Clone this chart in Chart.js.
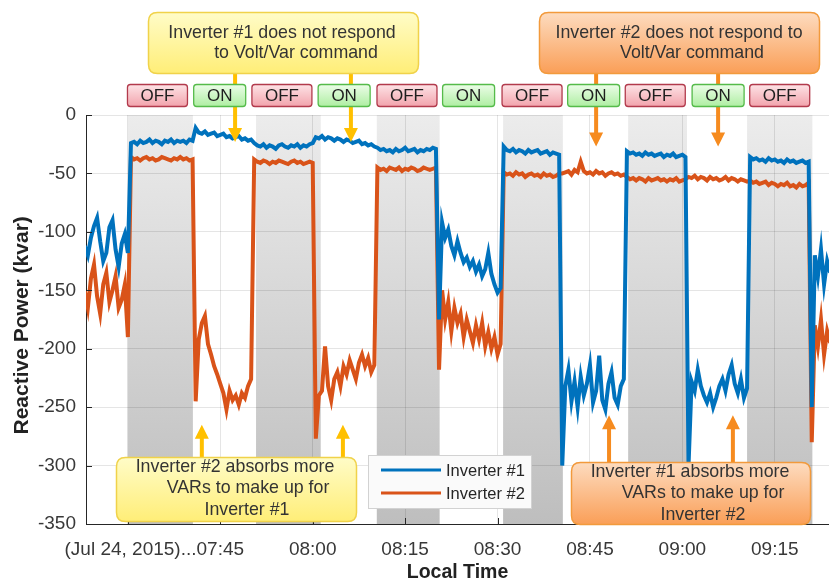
<!DOCTYPE html>
<html>
<head>
<meta charset="utf-8">
<script src="https://cdn.jsdelivr.net/npm/chart.js@4.4.1/dist/chart.umd.min.js"></script>
<style>
  html, body { margin: 0; padding: 0; background: #ffffff; }
  #wrap { width: 829px; height: 582px; position: relative; }
</style>
</head>
<body>
<div id="wrap"><canvas id="c" width="829" height="582"></canvas></div>
<script>
// ---------- data (time in minutes after midnight, sampled every 0.5 min) ----------
const START_MIN = 443;
const STEP_MIN = 0.5;

const inverter1 = [
  -112,-120,-105,-95,-88,-108,-125,-118,-96,-90,-115,-130,-110,-102,-118,
  -24,-23,-25,-22,-24,-23,-21,-24,-22,-23,-25,-22,-23,-21,-24,-22,-23,-22,-24,-21,-22,
  -11,-15,-16,-14,-17,-16,-15,-18,-17,-16,-19,-18,-20,-19,-18,-21,-20,-22,-21,
  -24,-26,-27,-25,-28,-26,-27,-29,-26,-25,-27,-28,-26,-27,-25,-28,-26,-27,-25,-24,
  -19,-20,-18,-21,-19,-20,-22,-20,-21,-23,-21,-22,-24,-23,-22,-25,-24,-26,-25,-27,
  -28,-30,-29,-31,-30,-32,-29,-31,-30,-28,-31,-30,-29,-32,-30,-31,-29,-30,-28,-29,
  -175,-92,-105,-98,-112,-120,-108,-118,-126,-122,-130,-125,-134,-128,-138,-132,-118,-136,-145,-152,-148,
  -27,-30,-31,-29,-32,-30,-31,-33,-30,-32,-31,-30,-33,-32,-31,-34,-32,-33,-34,
  -300,-232,-218,-245,-228,-250,-224,-240,-230,-214,-246,-236,-206,-244,-252,-230,-220,-242,-248,-232,-226,
  -31,-33,-32,-34,-33,-35,-32,-34,-33,-35,-34,-33,-36,-34,-35,-33,-36,-35,-34,-36,
  -300,-228,-236,-218,-232,-240,-246,-238,-250,-242,-232,-226,-236,-222,-214,-230,-238,-226,-242,-234,
  -36,-38,-37,-39,-38,-40,-37,-39,-38,-40,-39,-41,-38,-40,-39,-41,-40,-39,-41,-40,
  -250,-120,-138,-115,-145,-125,-135
];

const inverter2 = [
  -150,-165,-140,-128,-155,-170,-145,-135,-160,-150,-138,-165,-158,-145,-190,
  -36,-38,-37,-39,-37,-36,-38,-37,-39,-38,-36,-37,-38,-39,-37,-38,-36,-38,-37,-39,-38,
  -245,-192,-178,-172,-196,-205,-215,-222,-230,-238,-252,-236,-244,-240,-248,-238,-242,-232,-226,
  -38,-40,-41,-39,-40,-42,-40,-41,-39,-40,-41,-42,-40,-39,-41,-40,-42,-41,-40,-41,
  -277,-240,-236,-198,-232,-244,-226,-220,-232,-215,-222,-210,-218,-226,-212,-205,-215,-208,-220,-214,
  -45,-47,-46,-48,-45,-46,-47,-45,-48,-46,-47,-45,-46,-48,-47,-45,-46,-47,-46,-45,
  -218,-150,-175,-160,-185,-165,-178,-170,-190,-175,-185,-195,-180,-192,-178,-198,-186,-200,-190,-205,-196,
  -49,-51,-50,-52,-49,-51,-50,-53,-51,-50,-52,-51,-53,-50,-52,-51,-53,-52,-50,
  -50,-49,-48,-51,-47,-49,-40,-48,-50,-49,-51,-48,-50,-49,-52,-50,-49,-51,-50,-52,-51,
  -53,-55,-54,-56,-54,-55,-57,-54,-56,-55,-54,-56,-55,-57,-55,-56,-54,-57,-56,-55,
  -53,-54,-52,-55,-53,-54,-56,-53,-55,-54,-56,-55,-53,-56,-54,-55,-57,-55,-56,-57,
  -56,-58,-57,-59,-58,-57,-60,-58,-59,-61,-59,-60,-58,-61,-60,-62,-59,-61,-60,-58,
  -280,-180,-198,-175,-205,-185,-195
];

// Volt/Var command OFF periods (shaded), minutes
const offStart = [450.0, 470.8, 490.4, 510.9, 531.2, 550.5];
const offEnd   = [460.55, 481.3, 500.6, 520.6, 540.75, 561.1];

// state label boxes above the plot
const stateTimes  = [454.8, 464.9, 475.0, 485.1, 495.3, 505.3, 515.6, 525.6, 535.6, 545.8, 555.8];
const stateLabels = ['OFF','ON','OFF','ON','OFF','ON','OFF','ON','OFF','ON','OFF'];

// x axis ticks
const tickTimes  = [450, 465, 480, 495, 510, 525, 540, 555];
const tickLabels = ['', '07:45', '08:00', '08:15', '08:30', '08:45', '09:00', '09:15'];
const datePrefix = '(Jul 24, 2015)...';

const X_MIN = 443.2, X_MAX = 563.8;
const Y_MIN = -350, Y_MAX = 0, Y_STEP = 50;

const seriesNames = ['Inverter #1', 'Inverter #2'];
const seriesColors = ['#0072BD', '#D95319'];

// annotations
const callouts = [
  { box: [148, 12, 270, 61], kind: 'yellow',
    lines: [['Inverter #1 does not respond', 282, 33], ['to Volt/Var command', 296, 53]] },
  { box: [539, 12, 280, 61], kind: 'orange',
    lines: [['Inverter #2 does not respond to', 679, 33], ['Volt/Var command', 692, 53]] },
  { box: [116, 457, 240, 64], kind: 'yellow',
    lines: [['Inverter #2 absorbs more', 235, 467], ['VARs to make up for', 248, 488], ['Inverter #1', 247, 510]] },
  { box: [571, 462, 239, 62], kind: 'orange',
    lines: [['Inverter #1 absorbs more', 690, 472], ['VARs to make up for', 703, 493], ['Inverter #2', 703, 515]] }
];
// arrows: time (min), start pixel y, tip value (kvar)
const arrows = [
  { t: 467.4, fromPx: 70, tip: -23, kind: 'yellow' },
  { t: 486.2, fromPx: 70, tip: -23, kind: 'yellow' },
  { t: 526.0, fromPx: 70, tip: -27, kind: 'orange' },
  { t: 545.8, fromPx: 70, tip: -27, kind: 'orange' },
  { t: 462.0, fromPx: 462, tip: -265, kind: 'yellow' },
  { t: 484.9, fromPx: 462, tip: -265, kind: 'yellow' },
  { t: 528.1, fromPx: 466, tip: -257, kind: 'orange' },
  { t: 548.2, fromPx: 466, tip: -257, kind: 'orange' }
];

const FONT = '"Liberation Sans", Arial, Helvetica, sans-serif';

// ---------- helpers ----------
function rr(ctx, x, y, w, h, r) {
  ctx.beginPath();
  ctx.moveTo(x + r, y);
  ctx.lineTo(x + w - r, y);
  ctx.quadraticCurveTo(x + w, y, x + w, y + r);
  ctx.lineTo(x + w, y + h - r);
  ctx.quadraticCurveTo(x + w, y + h, x + w - r, y + h);
  ctx.lineTo(x + r, y + h);
  ctx.quadraticCurveTo(x, y + h, x, y + h - r);
  ctx.lineTo(x, y + r);
  ctx.quadraticCurveTo(x, y, x + r, y);
  ctx.closePath();
}

const annotPlugin = {
  id: 'annot',
  beforeDraw(chart) {
    const { ctx, chartArea: ca, scales: { x } } = chart;
    ctx.save();
    const g = ctx.createLinearGradient(0, ca.top, 0, ca.bottom);
    g.addColorStop(0, '#ececec');
    g.addColorStop(1, '#bebebe');
    ctx.fillStyle = g;
    for (let i = 0; i < offStart.length; i++) {
      const xa = x.getPixelForValue(offStart[i]);
      const xb = x.getPixelForValue(offEnd[i]);
      ctx.fillRect(xa, ca.top, xb - xa, ca.bottom - ca.top);
    }
    ctx.restore();
  },
  afterDraw(chart) {
    const { ctx, chartArea: ca, scales: { x, y } } = chart;
    ctx.save();

    // inner tick marks
    ctx.strokeStyle = '#262626';
    ctx.lineWidth = 1;
    ctx.beginPath();
    for (let v = Y_MIN; v <= Y_MAX; v += Y_STEP) {
      const py = Math.round(y.getPixelForValue(v)) + 0.5;
      ctx.moveTo(ca.left, py); ctx.lineTo(ca.left + 6, py);
    }
    tickTimes.forEach(t => {
      const px = Math.round(x.getPixelForValue(t)) + 0.5;
      ctx.moveTo(px, ca.bottom); ctx.lineTo(px, ca.bottom - 6);
    });
    ctx.stroke();

    // date prefix before the 07:45 tick label
    const items = x.getLabelItems ? x.getLabelItems() : [];
    const item = items.find(it => it.label === '07:45');
    if (item) {
      ctx.font = '19px ' + FONT;
      ctx.fillStyle = '#383838';
      const [tx, ty] = item.options.translation;
      ctx.textBaseline = item.options.textBaseline;
      const w = ctx.measureText('07:45').width;
      ctx.textAlign = 'right';
      ctx.fillText(datePrefix, tx - w / 2, ty + item.textOffset);
    }

    // legend
    ctx.fillStyle = '#fafafa';
    ctx.strokeStyle = '#d2d2d2';
    ctx.lineWidth = 1;
    ctx.fillRect(368.5, 455.5, 163, 53);
    ctx.strokeRect(368.5, 455.5, 163, 53);
    ctx.font = '16.5px ' + FONT;
    ctx.textAlign = 'left';
    ctx.textBaseline = 'middle';
    seriesNames.forEach((n, i) => {
      const ly = 470 + i * 23;
      ctx.strokeStyle = seriesColors[i];
      ctx.lineWidth = 3;
      ctx.beginPath(); ctx.moveTo(381, ly); ctx.lineTo(441, ly); ctx.stroke();
      ctx.fillStyle = '#262626';
      ctx.fillText(n, 446, ly + 1);
    });

    // arrows
    arrows.forEach(a => {
      const px = x.getPixelForValue(a.t);
      const tipY = y.getPixelForValue(a.tip);
      const dir = tipY > a.fromPx ? 1 : -1;
      const head = 14, hw = 7, sw = 2;
      ctx.fillStyle = a.kind === 'yellow' ? '#ffc000' : '#f68b1f';
      ctx.beginPath();
      ctx.moveTo(px - sw, a.fromPx);
      ctx.lineTo(px + sw, a.fromPx);
      ctx.lineTo(px + sw, tipY - dir * head);
      ctx.lineTo(px + hw, tipY - dir * head);
      ctx.lineTo(px, tipY);
      ctx.lineTo(px - hw, tipY - dir * head);
      ctx.lineTo(px - sw, tipY - dir * head);
      ctx.closePath();
      ctx.fill();
    });

    // ON / OFF state boxes
    stateTimes.forEach((t, i) => {
      const on = stateLabels[i] === 'ON';
      const w = on ? 52 : 60, h = 22;
      const cx = x.getPixelForValue(t);
      const bx = cx - w / 2, by = 84.5;
      const g = ctx.createLinearGradient(0, by, 0, by + h);
      if (on) { g.addColorStop(0, '#ecfde8'); g.addColorStop(1, '#aeeea2'); }
      else { g.addColorStop(0, '#fde3e6'); g.addColorStop(1, '#f2a3ac'); }
      rr(ctx, bx, by, w, h, 3);
      ctx.fillStyle = g; ctx.fill();
      ctx.strokeStyle = on ? '#55bb4a' : '#b23a4c';
      ctx.lineWidth = 1.3; ctx.stroke();
      ctx.fillStyle = '#1e1e1e';
      ctx.font = '17px ' + FONT;
      ctx.textAlign = 'center';
      ctx.textBaseline = 'middle';
      ctx.fillText(stateLabels[i], cx, by + h / 2 + 1);
    });

    // callouts
    callouts.forEach(c => {
      const [bx, by, bw, bh] = c.box;
      const g = ctx.createLinearGradient(0, by, 0, by + bh);
      if (c.kind === 'yellow') { g.addColorStop(0, '#fffcc8'); g.addColorStop(1, '#ffee78'); }
      else { g.addColorStop(0, '#fddcc0'); g.addColorStop(1, '#fa9f58'); }
      rr(ctx, bx + 0.5, by + 0.5, bw, bh, 9);
      ctx.fillStyle = g; ctx.fill();
      ctx.strokeStyle = c.kind === 'yellow' ? '#f0d24a' : '#f29a3c';
      ctx.lineWidth = 1.5; ctx.stroke();
      ctx.fillStyle = '#333333';
      ctx.font = '17.8px ' + FONT;
      ctx.textAlign = 'center';
      ctx.textBaseline = 'middle';
      c.lines.forEach(([txt, lx, ly]) => ctx.fillText(txt, lx, ly));
    });

    ctx.restore();
  }
};

const times = inverter1.map((_, i) => START_MIN + i * STEP_MIN);

new Chart(document.getElementById('c'), {
  type: 'line',
  data: {
    datasets: [
      { label: seriesNames[0], data: times.map((t, i) => ({ x: t, y: inverter1[i] })),
        borderColor: seriesColors[0], borderWidth: 4, pointRadius: 0, tension: 0, fill: false },
      { label: seriesNames[1], data: times.map((t, i) => ({ x: t, y: inverter2[i] })),
        borderColor: seriesColors[1], borderWidth: 4, pointRadius: 0, tension: 0, fill: false }
    ]
  },
  options: {
    responsive: false,
    animation: false,
    devicePixelRatio: 1,
    layout: { padding: { left: 0, right: 0, top: 115, bottom: 0 } },
    plugins: { legend: { display: false }, tooltip: { enabled: false } },
    scales: {
      x: {
        type: 'linear', min: X_MIN, max: X_MAX,
        afterBuildTicks: s => { s.ticks = tickTimes.map(v => ({ value: v })); },
        afterFit: s => { s.height = 58; },
        ticks: {
          autoSkip: false, maxRotation: 0, minRotation: 0, padding: 14,
          color: '#383838', font: { family: FONT, size: 19 },
          callback: (v) => { const k = tickTimes.indexOf(v); return k >= 0 ? tickLabels[k] : ''; }
        },
        grid: { color: 'rgba(0,0,0,0.10)', drawTicks: false },
        border: { display: true, color: '#262626', width: 1 },
        title: { display: true, text: 'Local Time', color: '#222222',
                 font: { family: FONT, size: 19.5, weight: 'bold', lineHeight: 1 }, padding: { top: 0, bottom: 0 } }
      },
      y: {
        min: Y_MIN, max: Y_MAX,
        afterFit: s => { s.width = 86; },
        ticks: { stepSize: Y_STEP, padding: 10, color: '#383838', font: { family: FONT, size: 19 } },
        grid: { color: 'rgba(0,0,0,0.10)', drawTicks: false },
        border: { display: true, color: '#262626', width: 1 },
        title: { display: true, text: 'Reactive Power (kvar)\u00a0\u00a0', color: '#222222',
                 font: { family: FONT, size: 21, weight: 'bold', lineHeight: 1 }, padding: { top: 12, bottom: 0 } }
      }
    }
  },
  plugins: [annotPlugin]
});
</script>
</body>
</html>
